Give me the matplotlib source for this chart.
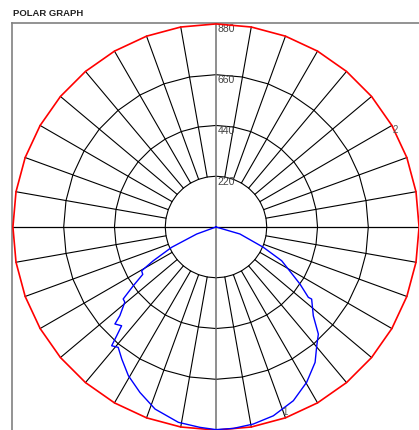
import numpy as np
import matplotlib.pyplot as plt

# ring values and labels
rings = [220, 440, 660, 880]
ring_labels = ['220', '440', '660', '880']
rmax = 880

# curve 1: angle from nadir (deg, negative = left side), intensity
curve_ang = [-90, -70, -65.4, -61.7, -59.5, -57.1, -54.6, -52.2, -50.5, -47.3, -46.2, -43.7,
             -42.4, -41.3, -39.1, -35.5, -30.5, -24.7, -18.5, -10.9, -4.6, 0,
             4.9, 10.7, 16.9, 24.0, 30.3, 36.2, 40.3, 43.7, 47.6, 53.0, 52.7, 55.8,
             59.8, 62.8, 66.8, 73.7, 90]
curve_val = [0, 89, 211, 309, 374, 378, 440, 509, 512, 567, 607, 592,
             638, 685, 672, 703, 748, 789, 832, 862, 871, 878,
             876, 869, 855, 824, 779, 727, 675, 642, 571, 519, 503, 440,
             362, 320, 223, 108, 0]

# curve labels (angle from nadir, radius)
label_text = ['1', '2']
label_ang = [20.6, 118.7]
label_r = [850, 885]


def xy(ang, r):
    a = np.radians(np.asarray(ang, dtype=float))
    r = np.asarray(r, dtype=float)
    return r * np.sin(a), -r * np.cos(a)


fig = plt.figure(figsize=(4.19, 4.31), dpi=100)
fig.text(13 / 419, 1 - 13 / 431, 'POLAR GRAPH', fontsize=6.8, fontweight='bold',
         family='Liberation Sans', va='center', ha='left', color='#222222')

ax = fig.add_axes([12 / 419, -1 / 431, 408 / 419, 408 / 431])
ax.set_xlim(-884, 884)
ax.set_ylim(-884, 884)
ax.set_xticks([])
ax.set_yticks([])
for s in ax.spines.values():
    s.set_color('#808080')
    s.set_linewidth(1.2)

poly = np.arange(0, 361, 10)

# rings
for r in rings[:-1]:
    x, y = xy(poly, np.full(poly.shape, r))
    ax.plot(x, y, color='black', lw=0.8)
x, y = xy(poly, np.full(poly.shape, rmax))
ax.plot(x, y, color='red', lw=1.2, zorder=4)

# radial lines
for a in range(0, 360, 10):
    if a % 90 == 0:
        continue
    x, y = xy([a, a], [rings[0], rmax])
    ax.plot(x, y, color='black', lw=0.8)
ax.plot([-rmax, rmax], [0, 0], color='black', lw=0.9)
ax.plot([0, 0], [-884, 884], color='#707070', lw=1.1)

for r, t in zip(rings, ring_labels):
    ax.text(6, r + 2, t, fontsize=7.5, color='#444444', va='top', ha='left',
            family='Liberation Sans')

x, y = xy(curve_ang, curve_val)
ax.plot(x, y, color='blue', lw=1.0, zorder=5)

for t, a, r in zip(label_text, label_ang, label_r):
    x, y = xy(a, r)
    ax.text(x, y, t, fontsize=7, color='#555555', ha='center', va='center',
            family='Liberation Sans', zorder=6)

fig.savefig('out.png', dpi=100)
